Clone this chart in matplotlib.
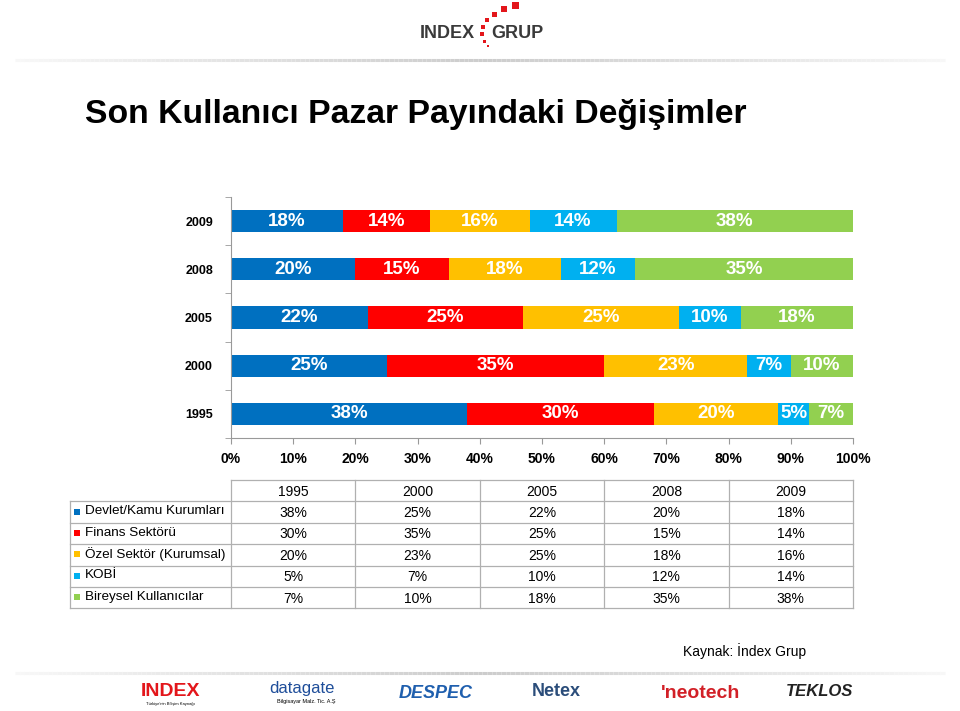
import numpy as np
import matplotlib
matplotlib.use("Agg")
from matplotlib import pyplot as plt
from matplotlib.patches import Rectangle

plt.rcParams['font.family'] = ['Liberation Sans', 'DejaVu Sans']

# data
years = ['1995', '2000', '2005', '2008', '2009']
segments = ['Devlet/Kamu Kurumları', 'Finans Sektörü', 'Özel Sektör (Kurumsal)',
            'KOBİ', 'Bireysel Kullanıcılar']
devlet = [38, 25, 22, 20, 18]
finans = [30, 35, 25, 15, 14]
ozel = [20, 23, 25, 18, 16]
kobi = [5, 7, 10, 12, 14]
bireysel = [7, 10, 18, 35, 38]
colors = ['#0070C0', '#FF0000', '#FFC000', '#00B0F0', '#92D050']
xticks = [0, 10, 20, 30, 40, 50, 60, 70, 80, 90, 100]

W, H = 960, 711
fig = plt.figure(figsize=(W / 100, H / 100), dpi=100)


def box(x0, y0, x1, y1):
    # pixel box -> figure fraction
    return [x0 / W, 1 - y1 / H, (x1 - x0) / W, (y1 - y0) / H]


# overlay axes in pixel coordinates for decoration + table
ov = fig.add_axes([0, 0, 1, 1])
ov.set_xlim(0, W)
ov.set_ylim(H, 0)
ov.axis('off')

# header logo
ov.text(447, 34, 'INDEX', fontsize=13, fontweight='bold', color='#3a3a3a',
        ha='center', va='center')
ov.text(517, 34, 'GRUP', fontsize=13, fontweight='bold', color='#3a3a3a',
        ha='center', va='center')
sq = [(515, 5, 7), (504, 9, 6), (494, 14, 5), (487, 20, 4.5), (483, 27, 4),
      (482, 34, 3.5), (484, 41, 3), (488, 46, 2.5)]
for x, y, s in sq:
    ov.add_patch(Rectangle((x - s / 2, y - s / 2), s, s, color='#E3161B', lw=0))

# header / footer rules
for y in (60, 673):
    xs = np.linspace(15, 945, 200)
    for i in range(len(xs) - 1):
        t = abs((xs[i] - 480) / 465)
        c = 0.80 + 0.17 * t
        ov.plot(xs[i:i + 2], [y, y], color=(c, c, c), lw=2.2, solid_capstyle='butt')

# title
ov.text(85, 115, 'Son Kullanıcı Pazar Payındaki Değişimler', fontsize=24.3,
        fontweight='bold', color='black', ha='left', va='center')

# bar chart
ax = fig.add_axes(box(231, 197, 853, 438))
series = [devlet, finans, ozel, kobi, bireysel]
y = np.arange(len(years))
left = np.zeros(len(years))
for vals, c in zip(series, colors):
    vals = np.array(vals)
    ax.barh(y, vals, left=left, height=0.46, color=c, edgecolor='none')
    for yi, (l, v) in enumerate(zip(left, vals)):
        ax.text(l + v / 2, yi, f'{v}%', ha='center', va='center', color='white',
                fontsize=13.5, fontweight='bold')
    left += vals
ax.set_xlim(0, 100)
ax.set_ylim(-0.5, len(years) - 0.5)
ax.set_yticks(y)
ax.set_yticklabels(years, fontsize=9, fontweight='bold')
ax.set_yticks(np.arange(-0.5, len(years), 1), minor=True)
ax.tick_params(axis='y', which='major', length=0, pad=13)
ax.tick_params(axis='y', which='minor', length=4, color='#999999')
ax.set_xticks(xticks)
ax.set_xticklabels([f'{v}%' for v in xticks], fontsize=10, fontweight='bold')
ax.tick_params(axis='x', length=4, color='#999999', pad=6)
for s in ('top', 'right'):
    ax.spines[s].set_visible(False)
for s in ('left', 'bottom'):
    ax.spines[s].set_color('#999999')

# data table
tx0, tx1 = 70, 853
c0 = 231
col_w = (tx1 - c0) / len(years)
ty0, row_h = 480, 21.4
grid = '#b0b0b0'
n_rows = len(segments) + 1
ty1 = ty0 + row_h * n_rows
# horizontal lines
ov.plot([c0, tx1], [ty0, ty0], color=grid, lw=0.9)
for r in range(1, n_rows + 1):
    ov.plot([tx0, tx1], [ty0 + r * row_h] * 2, color=grid, lw=0.9)
# vertical lines
ov.plot([tx0, tx0], [ty0 + row_h, ty1], color=grid, lw=0.9)
for k in range(len(years) + 1):
    xk = c0 + k * col_w
    ov.plot([xk, xk], [ty0, ty1], color=grid, lw=0.9)
for k, yr in enumerate(years):
    ov.text(c0 + (k + 0.5) * col_w, ty0 + row_h / 2 + 1, yr, fontsize=10,
            ha='center', va='center')
for r, (name, vals, c) in enumerate(zip(segments, series, colors)):
    yc = ty0 + (r + 1.5) * row_h
    ov.add_patch(Rectangle((74, yc - 3.5), 6, 6, color=c, lw=0))
    ov.text(85, yc - 1, name, fontsize=9.7, ha='left', va='center')
    for k, v in enumerate(vals):
        ov.text(c0 + (k + 0.5) * col_w, yc + 1, f'{v}%', fontsize=10,
                ha='center', va='center')

ov.text(683, 651, 'Kaynak: İndex Grup', fontsize=10, ha='left', va='center')

# footer logos
ov.text(170, 691, 'INDEX', fontsize=14, fontweight='bold', color='#E3161B',
        ha='center', va='center')
ov.text(170, 704, 'Türkiye\'nin Bilişim Kaynağı', fontsize=3, ha='center', va='center')
ov.text(302, 689, 'datagate', fontsize=12, color='#1f4e9a', ha='center', va='center')
ov.text(306, 702, 'Bilgisayar Malz. Tic. A.Ş', fontsize=4, ha='center', va='center')
ov.text(436, 693, 'DESPEC', fontsize=13, fontweight='bold', fontstyle='italic',
        color='#1f5fae', ha='center', va='center')
ov.text(556, 691, 'Netex', fontsize=13, fontweight='bold', color='#2b4d7a',
        ha='center', va='center')
ov.text(701, 694, "'neotech", fontsize=14, fontweight='bold', color='#d22027',
        ha='center', va='center')
ov.text(820, 692, 'TEKLOS', fontsize=12, fontweight='bold', fontstyle='italic',
        color='#222222', ha='center', va='center')

fig.savefig('out.png', dpi=100)
